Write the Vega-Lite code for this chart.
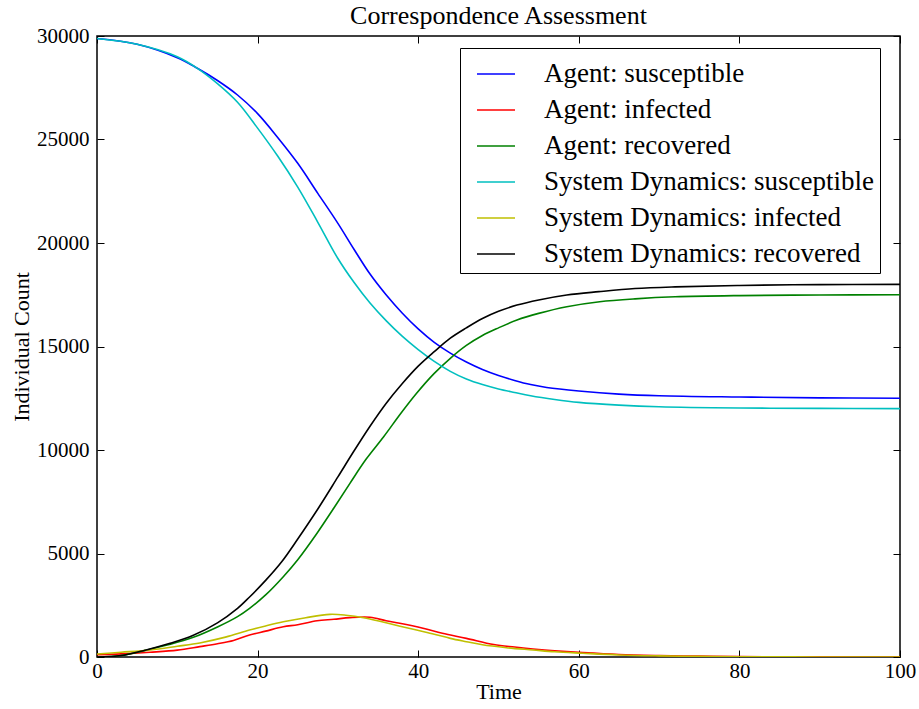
{
  "$schema": "https://vega.github.io/schema/vega-lite/v6.json",
  "width": 803,
  "height": 621,
  "autosize": "none",
  "padding": {"left": 97, "top": 36, "right": 19, "bottom": 52},
  "background": "white",
  "config": {
    "font": "Liberation Serif",
    "view": {"stroke": "black", "strokeWidth": 1.5},
    "axis": {"grid": false, "domain": false, "labelFlush": false, "labelOverlap": false, "tickColor": "black", "tickSize": -7, "tickWidth": 1, "labelColor": "black", "titleColor": "black", "labelFontSize": 21, "titleFontSize": 22, "titleFontWeight": "normal", "labelFont": "Liberation Serif", "titleFont": "Liberation Serif"}
  },
  "title": {"text": "Correspondence Assessment", "fontSize": 26, "fontWeight": "normal", "font": "Liberation Serif", "color": "black", "offset": 6, "dy": 10},
  "datasets": {
    "series": [
      {"t":0,"v":29880,"s":"Agent: susceptible"},{"t":5,"v":29600,"s":"Agent: susceptible"},{"t":10,"v":28950,"s":"Agent: susceptible"},{"t":12.5,"v":28440,"s":"Agent: susceptible"},{"t":15,"v":27850,"s":"Agent: susceptible"},{"t":17.5,"v":27150,"s":"Agent: susceptible"},{"t":20,"v":26250,"s":"Agent: susceptible"},{"t":22.5,"v":25100,"s":"Agent: susceptible"},{"t":25,"v":23850,"s":"Agent: susceptible"},{"t":27.5,"v":22400,"s":"Agent: susceptible"},{"t":30,"v":20950,"s":"Agent: susceptible"},{"t":32,"v":19700,"s":"Agent: susceptible"},{"t":34,"v":18500,"s":"Agent: susceptible"},{"t":36,"v":17500,"s":"Agent: susceptible"},{"t":38,"v":16620,"s":"Agent: susceptible"},{"t":40,"v":15850,"s":"Agent: susceptible"},{"t":42,"v":15200,"s":"Agent: susceptible"},{"t":44,"v":14680,"s":"Agent: susceptible"},{"t":46,"v":14250,"s":"Agent: susceptible"},{"t":48,"v":13890,"s":"Agent: susceptible"},{"t":50,"v":13600,"s":"Agent: susceptible"},{"t":52,"v":13360,"s":"Agent: susceptible"},{"t":54,"v":13160,"s":"Agent: susceptible"},{"t":56,"v":13020,"s":"Agent: susceptible"},{"t":60,"v":12850,"s":"Agent: susceptible"},{"t":65,"v":12700,"s":"Agent: susceptible"},{"t":70,"v":12620,"s":"Agent: susceptible"},{"t":80,"v":12560,"s":"Agent: susceptible"},{"t":90,"v":12520,"s":"Agent: susceptible"},{"t":100,"v":12500,"s":"Agent: susceptible"},
      {"t":0,"v":110,"s":"Agent: infected"},{"t":3,"v":150,"s":"Agent: infected"},{"t":6.6,"v":230,"s":"Agent: infected"},{"t":10,"v":330,"s":"Agent: infected"},{"t":12.8,"v":500,"s":"Agent: infected"},{"t":15,"v":640,"s":"Agent: infected"},{"t":17,"v":800,"s":"Agent: infected"},{"t":19,"v":1060,"s":"Agent: infected"},{"t":21,"v":1250,"s":"Agent: infected"},{"t":23.2,"v":1460,"s":"Agent: infected"},{"t":25,"v":1560,"s":"Agent: infected"},{"t":27.4,"v":1750,"s":"Agent: infected"},{"t":29.5,"v":1820,"s":"Agent: infected"},{"t":31.5,"v":1900,"s":"Agent: infected"},{"t":34,"v":1920,"s":"Agent: infected"},{"t":36,"v":1750,"s":"Agent: infected"},{"t":37.7,"v":1630,"s":"Agent: infected"},{"t":40.6,"v":1390,"s":"Agent: infected"},{"t":43,"v":1150,"s":"Agent: infected"},{"t":46,"v":900,"s":"Agent: infected"},{"t":49.4,"v":600,"s":"Agent: infected"},{"t":52,"v":480,"s":"Agent: infected"},{"t":54.3,"v":390,"s":"Agent: infected"},{"t":57,"v":300,"s":"Agent: infected"},{"t":60.5,"v":210,"s":"Agent: infected"},{"t":65,"v":120,"s":"Agent: infected"},{"t":70,"v":70,"s":"Agent: infected"},{"t":75,"v":40,"s":"Agent: infected"},{"t":80,"v":20,"s":"Agent: infected"},{"t":90,"v":5,"s":"Agent: infected"},{"t":100,"v":0,"s":"Agent: infected"},
      {"t":0,"v":0,"s":"Agent: recovered"},{"t":3,"v":70,"s":"Agent: recovered"},{"t":6,"v":320,"s":"Agent: recovered"},{"t":9,"v":600,"s":"Agent: recovered"},{"t":12,"v":950,"s":"Agent: recovered"},{"t":15,"v":1450,"s":"Agent: recovered"},{"t":17.5,"v":1950,"s":"Agent: recovered"},{"t":19,"v":2350,"s":"Agent: recovered"},{"t":21,"v":3000,"s":"Agent: recovered"},{"t":23.2,"v":3880,"s":"Agent: recovered"},{"t":25,"v":4700,"s":"Agent: recovered"},{"t":27.4,"v":5980,"s":"Agent: recovered"},{"t":29.5,"v":7200,"s":"Agent: recovered"},{"t":31.5,"v":8390,"s":"Agent: recovered"},{"t":33.5,"v":9550,"s":"Agent: recovered"},{"t":35.7,"v":10640,"s":"Agent: recovered"},{"t":37.8,"v":11750,"s":"Agent: recovered"},{"t":39.8,"v":12740,"s":"Agent: recovered"},{"t":42,"v":13700,"s":"Agent: recovered"},{"t":44,"v":14430,"s":"Agent: recovered"},{"t":46,"v":15050,"s":"Agent: recovered"},{"t":48,"v":15530,"s":"Agent: recovered"},{"t":50,"v":15900,"s":"Agent: recovered"},{"t":52.3,"v":16280,"s":"Agent: recovered"},{"t":55,"v":16600,"s":"Agent: recovered"},{"t":58.5,"v":16920,"s":"Agent: recovered"},{"t":62.6,"v":17160,"s":"Agent: recovered"},{"t":67,"v":17300,"s":"Agent: recovered"},{"t":72,"v":17400,"s":"Agent: recovered"},{"t":80,"v":17460,"s":"Agent: recovered"},{"t":90,"v":17490,"s":"Agent: recovered"},{"t":100,"v":17500,"s":"Agent: recovered"},
      {"t":0,"v":29880,"s":"System Dynamics: susceptible"},{"t":5,"v":29600,"s":"System Dynamics: susceptible"},{"t":10,"v":29000,"s":"System Dynamics: susceptible"},{"t":12.5,"v":28440,"s":"System Dynamics: susceptible"},{"t":15,"v":27700,"s":"System Dynamics: susceptible"},{"t":17.5,"v":26800,"s":"System Dynamics: susceptible"},{"t":20,"v":25550,"s":"System Dynamics: susceptible"},{"t":22.5,"v":24200,"s":"System Dynamics: susceptible"},{"t":25,"v":22700,"s":"System Dynamics: susceptible"},{"t":27.5,"v":21000,"s":"System Dynamics: susceptible"},{"t":30,"v":19250,"s":"System Dynamics: susceptible"},{"t":32,"v":18100,"s":"System Dynamics: susceptible"},{"t":34,"v":17100,"s":"System Dynamics: susceptible"},{"t":36,"v":16250,"s":"System Dynamics: susceptible"},{"t":38,"v":15500,"s":"System Dynamics: susceptible"},{"t":40,"v":14850,"s":"System Dynamics: susceptible"},{"t":42,"v":14280,"s":"System Dynamics: susceptible"},{"t":44,"v":13800,"s":"System Dynamics: susceptible"},{"t":46,"v":13430,"s":"System Dynamics: susceptible"},{"t":48,"v":13160,"s":"System Dynamics: susceptible"},{"t":50,"v":12950,"s":"System Dynamics: susceptible"},{"t":52,"v":12780,"s":"System Dynamics: susceptible"},{"t":54,"v":12620,"s":"System Dynamics: susceptible"},{"t":57,"v":12440,"s":"System Dynamics: susceptible"},{"t":60,"v":12300,"s":"System Dynamics: susceptible"},{"t":65,"v":12170,"s":"System Dynamics: susceptible"},{"t":70,"v":12090,"s":"System Dynamics: susceptible"},{"t":80,"v":12030,"s":"System Dynamics: susceptible"},{"t":90,"v":12010,"s":"System Dynamics: susceptible"},{"t":100,"v":12000,"s":"System Dynamics: susceptible"},
      {"t":0,"v":145,"s":"System Dynamics: infected"},{"t":3,"v":230,"s":"System Dynamics: infected"},{"t":6.6,"v":340,"s":"System Dynamics: infected"},{"t":10,"v":520,"s":"System Dynamics: infected"},{"t":12.8,"v":680,"s":"System Dynamics: infected"},{"t":16,"v":960,"s":"System Dynamics: infected"},{"t":19,"v":1300,"s":"System Dynamics: infected"},{"t":21,"v":1500,"s":"System Dynamics: infected"},{"t":23.2,"v":1700,"s":"System Dynamics: infected"},{"t":26,"v":1900,"s":"System Dynamics: infected"},{"t":29,"v":2060,"s":"System Dynamics: infected"},{"t":31,"v":2020,"s":"System Dynamics: infected"},{"t":33.2,"v":1900,"s":"System Dynamics: infected"},{"t":36,"v":1650,"s":"System Dynamics: infected"},{"t":39.8,"v":1300,"s":"System Dynamics: infected"},{"t":42,"v":1100,"s":"System Dynamics: infected"},{"t":44,"v":900,"s":"System Dynamics: infected"},{"t":46,"v":740,"s":"System Dynamics: infected"},{"t":48,"v":590,"s":"System Dynamics: infected"},{"t":51,"v":450,"s":"System Dynamics: infected"},{"t":54.3,"v":340,"s":"System Dynamics: infected"},{"t":57,"v":250,"s":"System Dynamics: infected"},{"t":60.5,"v":180,"s":"System Dynamics: infected"},{"t":65,"v":100,"s":"System Dynamics: infected"},{"t":70,"v":55,"s":"System Dynamics: infected"},{"t":75,"v":28,"s":"System Dynamics: infected"},{"t":80,"v":14,"s":"System Dynamics: infected"},{"t":90,"v":3,"s":"System Dynamics: infected"},{"t":100,"v":0,"s":"System Dynamics: infected"},
      {"t":0,"v":0,"s":"System Dynamics: recovered"},{"t":3,"v":70,"s":"System Dynamics: recovered"},{"t":6,"v":330,"s":"System Dynamics: recovered"},{"t":9,"v":650,"s":"System Dynamics: recovered"},{"t":12,"v":1050,"s":"System Dynamics: recovered"},{"t":15,"v":1650,"s":"System Dynamics: recovered"},{"t":17.5,"v":2350,"s":"System Dynamics: recovered"},{"t":19,"v":2900,"s":"System Dynamics: recovered"},{"t":21,"v":3700,"s":"System Dynamics: recovered"},{"t":23,"v":4600,"s":"System Dynamics: recovered"},{"t":25,"v":5700,"s":"System Dynamics: recovered"},{"t":27.5,"v":7150,"s":"System Dynamics: recovered"},{"t":30,"v":8700,"s":"System Dynamics: recovered"},{"t":32,"v":9950,"s":"System Dynamics: recovered"},{"t":34,"v":11150,"s":"System Dynamics: recovered"},{"t":36,"v":12250,"s":"System Dynamics: recovered"},{"t":38,"v":13200,"s":"System Dynamics: recovered"},{"t":40,"v":14050,"s":"System Dynamics: recovered"},{"t":42,"v":14750,"s":"System Dynamics: recovered"},{"t":44,"v":15400,"s":"System Dynamics: recovered"},{"t":46,"v":15900,"s":"System Dynamics: recovered"},{"t":48,"v":16350,"s":"System Dynamics: recovered"},{"t":50,"v":16700,"s":"System Dynamics: recovered"},{"t":52.3,"v":17000,"s":"System Dynamics: recovered"},{"t":55,"v":17250,"s":"System Dynamics: recovered"},{"t":58.5,"v":17490,"s":"System Dynamics: recovered"},{"t":62.5,"v":17650,"s":"System Dynamics: recovered"},{"t":67,"v":17800,"s":"System Dynamics: recovered"},{"t":72,"v":17880,"s":"System Dynamics: recovered"},{"t":80,"v":17950,"s":"System Dynamics: recovered"},{"t":90,"v":17990,"s":"System Dynamics: recovered"},{"t":100,"v":18000,"s":"System Dynamics: recovered"}
    ]
  },
  "data": {"name": "series"},
  "resolve": {"axis": {"x": "independent", "y": "independent"}},
  "layer": [
    {
      "mark": {"type": "line", "strokeWidth": 1.6, "interpolate": "catmull-rom", "clip": true},
      "encoding": {
        "x": {"field": "t", "type": "quantitative", "scale": {"domain": [0, 100], "nice": false, "zero": false}, "axis": {"title": "Time", "values": [0, 20, 40, 60, 80, 100], "labelPadding": 10, "titlePadding": 0}},
        "y": {"field": "v", "type": "quantitative", "scale": {"domain": [0, 30000], "nice": false}, "axis": {"title": "Individual Count", "values": [0, 5000, 10000, 15000, 20000, 25000, 30000], "format": "d", "labelPadding": 15, "titlePadding": 3}},
        "color": {
          "field": "s", "type": "nominal",
          "scale": {
            "domain": ["Agent: susceptible", "Agent: infected", "Agent: recovered", "System Dynamics: susceptible", "System Dynamics: infected", "System Dynamics: recovered"],
            "range": ["#0000ff", "#ff0000", "#008000", "#00bfbf", "#bfbf00", "#000000"]
          },
          "legend": {
            "title": null, "orient": "none", "legendX": 363, "legendY": 12,
            "symbolType": "stroke", "symbolSize": 1444, "symbolStrokeWidth": 1.6, "symbolOffset": 10,
            "labelFontSize": 27, "labelColor": "black", "labelFont": "Liberation Serif", "labelOffset": 28,
            "rowPadding": 3, "strokeColor": "black", "fillColor": "white", "padding": 6, "labelLimit": 600
          }
        }
      }
    },
    {
      "mark": {"type": "rule", "opacity": 0},
      "encoding": {
        "x": {"datum": 0, "type": "quantitative", "axis": {"orient": "top", "labels": false, "title": null, "values": [0, 20, 40, 60, 80, 100]}},
        "y": {"datum": 0, "type": "quantitative", "axis": {"orient": "right", "labels": false, "title": null, "values": [0, 5000, 10000, 15000, 20000, 25000, 30000]}}
      }
    }
  ]
}
